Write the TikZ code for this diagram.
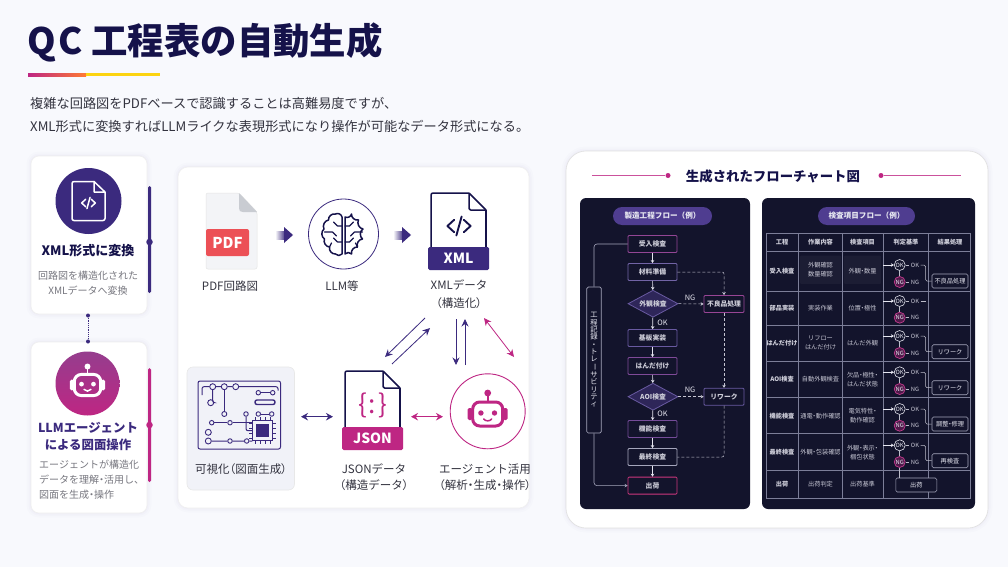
\documentclass[tikz,border=0pt]{standalone}
\usepackage{fontspec}
\setmainfont{Noto Sans CJK JP}
\usetikzlibrary{arrows.meta,shapes.geometric,calc,positioning}
\definecolor{pagebg}{HTML}{F8F9FD}
\definecolor{inkc}{HTML}{15124A}
\definecolor{purp}{HTML}{3B2A7E}
\definecolor{magn}{HTML}{BE2683}
\definecolor{grayt}{HTML}{77777F}
\definecolor{bodyt}{HTML}{33333F}
\definecolor{darkp}{HTML}{13142C}
\definecolor{pillc}{HTML}{4F3D90}
\definecolor{gridc}{HTML}{7C7E98}
\definecolor{flowt}{HTML}{E6E6F0}
\definecolor{tracec}{HTML}{A5A6BC}
\definecolor{pdfred}{HTML}{EC5056}
\definecolor{pdfbg}{HTML}{F3F4F7}
\definecolor{pdffold}{HTML}{C9CCD2}
\definecolor{visbg}{HTML}{F1F2F8}
\newcommand{\fsz}[1]{\fontsize{#1}{#1}\selectfont}
\newcommand{\pl}[1]{{\addfontfeature{RawFeature=+palt}#1}}
\tikzset{
	softcard/.style={fill=white,draw=black!6,line width=.6pt,rounded corners=#1,
		preaction={draw=purp,opacity=.012,line width=9pt},
		preaction={draw=purp,opacity=.015,line width=5pt},
		preaction={draw=purp,opacity=.02,line width=2pt}},
	txt/.style={inner sep=0,align=center,text=bodyt,font=\fsz{11.5}},
	cardhead/.style={inner sep=0,align=center,text=inkc,font=\fsz{13}\bfseries},
	cardtxt/.style={inner sep=0,align=center,text=grayt,font=\fsz{10}},
	panelbox/.style={fill=darkp,rounded corners=6pt},
	pill/.style={fill=pillc,rounded corners=9pt,text=flowt,minimum width=#1,minimum height=18pt,inner sep=0,font=\fsz{7.6}\bfseries},
	flowbox/.style={draw=#1,rounded corners=1pt,line width=.8pt,minimum width=49pt,minimum height=17pt,inner sep=0,text=flowt!88!darkp,font=\fsz{6.8}\bfseries},
	sidebox/.style={draw=#1,rounded corners=1pt,line width=.8pt,minimum width=40pt,minimum height=17pt,inner sep=0,text=flowt!88!darkp,font=\fsz{6.8}\bfseries},
	flowdia/.style={diamond,aspect=1.85,draw=#1,fill=pillc!45!darkp,line width=.8pt,minimum width=50pt,minimum height=27pt,inner sep=0,text=flowt!88!darkp,font=\fsz{6.8}\bfseries},
	flowedge/.style={->,>={Stealth[width=3.5pt,length=3pt]},color=flowt,line width=.6pt},
	dashedge/.style={->,>={Stealth[width=3.5pt,length=3pt]},color=flowt!85!darkp,line width=.5pt,densely dashed,rounded corners=2pt},
	traceedge/.style={color=tracec,line width=.6pt,rounded corners=3pt,>={Stealth[width=3.5pt,length=3pt]}},
	flowlab/.style={inner sep=0,text=flowt,font=\fsz{7.4}},
	cell/.style={inner sep=0,align=center,text=flowt!85!darkp,font=\fsz{6.2}},
	cellb/.style={inner sep=0,align=center,text=flowt!90!darkp,font=\fsz{6.2}\bfseries},
	okmark/.style={circle,draw=flowt,line width=.6pt,fill=darkp,minimum size=11pt,inner sep=0,text=flowt,font=\fsz{5.8}},
	ngmark/.style={circle,draw=magn!90!white,line width=.7pt,fill=magn!35!darkp,minimum size=11pt,inner sep=0,text=flowt,font=\fsz{5.8}},
	marktx/.style={inner sep=0,outer sep=1.5pt,text=flowt!85!darkp,font=\fsz{5.8}},
	markedge/.style={color=flowt!80!darkp,line width=.5pt,rounded corners=1.5pt},
	markarrow/.style={->,>={Stealth[width=3.5pt,length=3pt]},color=flowt,line width=.5pt},
	resbox/.style={draw=tracec,fill=darkp,rounded corners=1.5pt,line width=.6pt,minimum width=36pt,minimum height=14pt,inner sep=0,text=flowt,font=\fsz{6.2}},
	thinarrow/.style={->,>={Stealth[width=7pt,length=7.5pt]},line width=.8pt},
	twoarrow/.style={<->,>={Stealth[width=7.5pt,length=7pt]},line width=1.2pt},
	cpad/.style={circle,draw=purp,fill=visbg,line width=.9pt,minimum size=6pt,inner sep=0},
	cline/.style={draw=purp,line width=1pt,rounded corners=2pt},
	pics/roboticon/.style={code={
		\draw[#1,line width=3pt,rounded corners=7pt,fill=none] (-15,-12) rectangle (15,12);
		\fill[#1,rounded corners=1.5pt] (-20,-6) rectangle (-15.5,6);
		\fill[#1,rounded corners=1.5pt] (15.5,-6) rectangle (20,6);
		\draw[#1,line width=1.6pt] (0,-13) -- (0,-20);
		\fill[#1] (0,-21) circle (3.4);
		\fill[#1] (-6.8,-1) circle (2.7);
		\fill[#1] (6.8,-1) circle (2.7);
		\draw[#1,line width=1.5pt,line cap=round] (-4,5) .. controls (-2,7.5) and (2,7.5) .. (4,5);
	}},
	pics/codeicon/.style={code={
		\draw[#1,line cap=round,line join=round] (-4.5,-6) -- (-11,0) -- (-4.5,6);
		\draw[#1,line cap=round,line join=round] (4.5,-6) -- (11,0) -- (4.5,6);
		\draw[#1,line cap=round] (2.5,-9) -- (-2.5,9);
	}},
	pics/docoutline/.style={code={
		\draw[#1,line join=round,rounded corners=2pt] (0,57) -- (0,0) -- (38,0);
		\draw[#1,line join=round] (38,0) -- (55,17);
		\draw[#1,line join=round] (55,17) -- (55,57);
		\draw[#1,line join=round,rounded corners=1.5pt] (38,0) -- (38,17) -- (55,17);
	}}
}
\begin{document}
\begin{tikzpicture}[x=1pt,y=-1pt]
\useasboundingbox (0,0) rectangle (1008,567);
\fill[pagebg] (0,0) rectangle (1008,567);

%%%% title
\node[anchor=west,inner sep=0,text=inkc,font=\fsz{36.4}\bfseries] (title) at (27,42) {Q\hspace{3pt}C\hspace{8.5pt}工程表の自動生成};
\fill[left color=magn,right color=orange!70!red!80!white] (28,73.5) rectangle (86,76.5);
\fill[yellow!70!orange!95!white] (86,73.5) rectangle (160,76.5);
\node[anchor=west,txt,align=left,font=\fsz{13.2}] (lead1) at (30,103) {複雑な回路図をPDFベースで認識することは高難易度ですが、};
\node[anchor=west,txt,align=left,font=\fsz{13.2}] (lead2) at (30,126) {XML形式に変換すればLLMライクな表現形式になり操作が可能なデータ形式になる。};

%%%% left cards
\draw[softcard=8pt] (31,156) rectangle (147,314);
\draw[softcard=8pt] (31,342) rectangle (147,513);
\fill[purp,rounded corners=1.5pt] (148,186) rectangle (151,293);
\fill[magn,rounded corners=1.5pt] (148,368) rectangle (151,482);
\node[circle,fill=purp,minimum size=6.5pt,inner sep=0] (dotxml) at (149.5,242) {};
\node[circle,fill=magn,minimum size=6.5pt,inner sep=0] (dotllm) at (149.5,425) {};
\node[circle,fill=purp,minimum size=4pt,inner sep=0] (linka) at (88,315.5) {};
\node[circle,fill=purp,minimum size=4pt,inner sep=0] (linkb) at (88,341.5) {};
\draw[purp,line width=.8pt,densely dotted] (linka) -- (linkb);

\node[circle,fill=purp,minimum size=66pt,inner sep=0] (xmlcirc) at (88.5,201) {};
\draw[white,line width=1.5pt,line join=round,rounded corners=2pt] (94,181.5) -- (72,181.5) -- (72,220.5) -- (105,220.5) -- (105,192);
\draw[white,line width=1.5pt,line join=round] (94,181.5) -- (105,192) -- (94,192) -- cycle;
\pic[scale=.62] at (88.5,203) {codeicon={white,line width=1.5pt}};
\node[cardhead] (xmlhead) at (88,251) {XML形式に変換};
\node[cardtxt] (xmltxt) at (88,283.5) {回路図を構造化された\\[5pt]XMLデータへ変換};

\node[circle,top color=magn!60!purp!90!white,bottom color=magn,minimum size=64pt,inner sep=0] (llmcirc) at (87.5,383.5) {};
\pic[scale=.88] at (87.5,385) {roboticon=white};
\node[cardhead,text=purp,font=\fsz{12.4}\bfseries] (llmhead) at (88,436.5) {LLMエージェント\\[4.6pt]による図面操作};
\node[cardtxt,align=left,anchor=west] (llmtxt) at (39,480) {エージェントが構造化\\[5pt]データを理解\pl{・}活用し\pl{、}\\[5pt]図面を生成\pl{・}操作};

%%%% main panel
\draw[softcard=10pt] (178,167) rectangle (529,508);

% PDF
\fill[pdfbg,draw=black!10,line width=.5pt,rounded corners=2pt] (206,193) -- (239,193) -- (257,212) -- (257,269) -- (206,269) -- cycle;
\fill[pdffold] (239,193) -- (257,212) -- (243,212) .. controls (240,212) and (239,211) .. (239,208) -- cycle;
\node[fill=pdfred,rounded corners=2pt,minimum width=43pt,minimum height=27pt,inner sep=0,text=white,font=\fsz{15}\bfseries] (pdftag) at (227.5,242.5) {PDF};
\node[txt] (pdflab) at (230,286) {PDF回路図};

\fill[left color=purp!8,right color=purp!85] (276,231) rectangle (284,239);
\fill[purp] (284,227) -- (293,235) -- (284,243) -- cycle;
\fill[left color=purp!8,right color=purp!85] (394,231) rectangle (402,239);
\fill[purp] (402,227) -- (411,235) -- (402,243) -- cycle;

% LLM
\node[circle,draw=purp,line width=.8pt,fill=white,minimum size=70pt,inner sep=0] (llm) at (343.5,234) {};
\foreach \s/\a in {1/-55,-1/55}{
\begin{scope}[shift={(343.5,235)},xscale=\s]
\draw[inkc,line width=1.5pt,line join=round] (-1.5,-18) to[bend left=\a] (-8,-21) to[bend left=\a] (-15,-15) to[bend left=\a] (-19.5,-6) to[bend left=\a] (-19,4) to[bend left=\a] (-14,12) to[bend left=\a] (-8,19) to[bend left=\a] (-1.5,19) -- cycle;
\draw[inkc,line width=1.2pt,line cap=round,line join=round] (-1.5,-9) -- (-6,-9) -- (-10,-13) (-19,-3) -- (-11,-3) -- (-7,1) (-1.5,7) -- (-6,7) -- (-10,3) (-14,12) -- (-12,8);
\end{scope}}
\node[txt] (llmlab) at (342,286) {LLM等};

% XML
\pic at (431,193) {docoutline={inkc,line width=1.5pt}};
\pic[scale=1.05] at (459,226) {codeicon={inkc,line width=1.9pt}};
\node[fill=purp,rounded corners=1.5pt,minimum width=61pt,minimum height=23pt,inner sep=0,text=white,font=\fsz{14}\bfseries] (xmltag) at (458.5,258.5) {XML};
\node[txt] (xmllab) at (459,294) {XMLデータ\\[6pt]\pl{（}構造化\pl{）}};

% visualisation
\draw[fill=visbg,draw=black!9,line width=.6pt,rounded corners=6pt] (187,367) rectangle (294.5,490);
\draw[purp,line width=1pt,rounded corners=2pt] (198,381) rectangle (280.5,449);
\node[cpad] (p1) at (212.7,386.7) {};
\node[cpad] (p2) at (224.3,386.7) {};
\node[cpad] (p3) at (235.7,386.7) {};
\node[cpad] (p4) at (210.7,402.7) {};
\node[cpad,minimum size=5pt] (p5) at (224.3,414) {};
\node[cpad,minimum size=4.5pt] (p6) at (258.3,392.7) {};
\node[cpad,minimum size=4.5pt] (p7) at (272.7,392.7) {};
\node[cpad,minimum size=4.5pt] (p8) at (246,414) {};
\node[cpad,minimum size=4.5pt] (p9) at (258.3,414) {};
\node[cpad,minimum size=4.5pt] (p10) at (271.7,414) {};
\node[cpad,minimum size=4.5pt] (p11) at (211.7,422.7) {};
\node[cpad,minimum size=4.5pt] (p12) at (230,422.7) {};
\node[cpad] (p13) at (208.3,432.3) {};
\node[cpad] (p14) at (208.3,441) {};
\node[cpad,minimum size=4.5pt] (p15) at (230,441) {};
\node[cpad,minimum size=4.5pt] (p16) at (246.7,441) {};
\node[draw=purp,line width=.8pt,fill=visbg,minimum width=20pt,minimum height=20pt,inner sep=0] (chipbox) at (262.7,430.7) {};
\node[fill=purp,minimum width=13pt,minimum height=13pt,inner sep=0] (chip) at (262.7,430.7) {};
\foreach \k in {-7.5,-2.5,2.5,7.5}{
\draw[purp,line width=.7pt] ($(chipbox.north)+(\k,0)$) -- ++(0,-3) ($(chipbox.south)+(\k,0)$) -- ++(0,3);
\draw[purp,line width=.7pt] ($(chipbox.west)+(0,\k)$) -- ++(-3,0) ($(chipbox.east)+(0,\k)$) -- ++(3,0);
}
\coordinate (c0) at (202,395);
\coordinate (c1) at (278,386.7);
\draw[cline] (c0) -- (202,386.7) -- (p1) -- (p2) -- (p3) -- (c1) -- ++(0,4);
\draw[cline] (p1) |- (p4);
\draw[cline] (p2) -- (p5);
\draw[cline] (p6) -- (p7);
\draw[cline] (p8) -- (chipbox.west -| p8) -- (chipbox.west);
\draw[cline] (p9) -- (p10);
\draw[cline,line width=.5pt] (p11) -- (p12);
\draw[cline] (p12) -- (chipbox.west |- p12);
\draw[cline] (p14) -- (p15) -- (p16) -- (chipbox.south west);
\draw[cline,line width=1.4pt] (255,400) rectangle (275,404.5);
\node[txt] (vislab) at (241,469.5) {可視化\pl{（}図面生成\pl{）}};

% JSON
\pic at (345,371) {docoutline={inkc,line width=1.5pt}};
\node[inner sep=0,text=magn,font=\fsz{26}] (jsonsym) at (372.5,405) {\{\hspace{2pt}:\hspace{2pt}\}};
\node[fill=magn,rounded corners=1.5pt,minimum width=61pt,minimum height=23pt,inner sep=0,text=white,font=\fsz{14}\bfseries] (jsontag) at (372.5,438.5) {JSON};
\node[txt] (jsonlab) at (374,477) {JSONデータ\\[5pt]\pl{（}構造データ\pl{）}};

% agent
\node[circle,draw=magn,line width=.9pt,fill=white,minimum size=75pt,inner sep=0] (agent) at (487.7,411.3) {};
\pic at (487.7,414) {roboticon=magn};
\node[txt] (agentlab) at (485,477) {エージェント活用\\[5pt]\pl{（}解析\pl{・}生成\pl{・}操作\pl{）}};

% arrows between the nodes
\coordinate (xa) at (425,318); \coordinate (xb) at (385,357);
\coordinate (xc) at (392,364); \coordinate (xd) at (430,328);
\coordinate (xe) at (456,319); \coordinate (xf) at (456,365);
\coordinate (xg) at (465,365); \coordinate (xh) at (465,319);
\coordinate (xi) at (484,318); \coordinate (xj) at (514,357);
\draw[thinarrow,purp] (xa) -- (xb);
\draw[thinarrow,purp] (xc) -- (xd);
\draw[thinarrow,purp] (xe) -- (xf);
\draw[thinarrow,purp] (xg) -- (xh);
\draw[thinarrow,<->,magn] (xi) -- (xj);
\coordinate (ya) at (301,416.7); \coordinate (yb) at (333,416.7);
\coordinate (yc) at (411,416.7); \coordinate (yd) at (443,416.7);
\draw[twoarrow,purp] (ya) -- (yb);
\draw[twoarrow,magn] (yc) -- (yd);

%%%% right panel
\draw[softcard=20pt,draw=black!12] (566,151) rectangle (988,528);
\node[cardhead,font=\fsz{13.4}\bfseries] (charthead) at (773,176) {生成されたフローチャート図};
\node[circle,fill=magn,minimum size=5pt,inner sep=0] (hl) at (668,175.5) {};
\node[circle,fill=magn,minimum size=5pt,inner sep=0] (hr) at (881,175.5) {};
\coordinate (hla) at (592,175.5); \coordinate (hra) at (961,175.5);
\draw[magn!80!white,line width=.6pt] (hla) -- (hl);
\draw[magn!80!white,line width=.6pt] (hr) -- (hra);
\fill[panelbox] (580,198) rectangle (750,509);
\fill[panelbox] (762,198) rectangle (975,509);

%%%% process flow
\node[pill=99pt] (flowpill) at (662.5,216) {製造工程フロー（例）};
\node[flowbox=magn!50!pillc!90!white] (f1) at (652.5,244) {受入検査};
\node[flowbox=pillc!80!white] (f2) at (652.5,272) {材料準備};
\node[flowdia=pillc!85!white] (f3) at (653,303.7) {外観検査};
\node[flowbox=pillc!85!white] (f4) at (652.5,338) {基板実装};
\node[flowbox=magn!30!pillc!90!white] (f5) at (652.5,366) {はんだ付け};
\node[flowdia=pillc!85!white] (f6) at (653,396.7) {AOI検査};
\node[flowbox=magn!20!pillc!90!white] (f7) at (652.5,429) {機能検査};
\node[flowbox=tracec] (f8) at (652.5,457) {最終検査};
\node[flowbox=magn!85!red!90!white] (f9) at (652.5,485.6) {出荷};
\foreach \a/\b in {f1/f2,f2/f3,f3/f4,f4/f5,f5/f6,f6/f7,f7/f8,f8/f9}
	\draw[flowedge] (\a) -- (\b);
\node[sidebox=magn!55!pillc!90!white] (bad) at (724,304) {不良品処理};
\node[sidebox=pillc!85!white] (rework) at (724,396.7) {リワーク};
\draw[dashedge] (f2.east) -| (bad.north);
\draw[dashedge] (f3.east) -- (bad.west);
\draw[dashedge] (f6.east) -- (rework.west);
\draw[dashedge] (bad.south) -- (rework.north);
\draw[dashedge,-] (rework.south) |- (f8.east);
\node[flowlab] (ng1) at (690,297.5) {NG};
\node[flowlab] (ng2) at (690,390) {NG};
\node[flowlab] (ok1) at (662.5,323) {OK};
\node[flowlab] (ok2) at (662.5,414) {OK};
\node[draw=tracec,line width=.7pt,rounded corners=1.5pt,minimum width=14.5pt,minimum height=146pt,inner sep=0,align=center,text=flowt,font=\fsz{7.3}] (trace) at (594,360) {工\\程\\記\\録\\\pl{・}\\ト\\レ\\\rotatebox[origin=c]{-90}{ー}\\サ\\ビ\\リ\\テ\\ィ};
\draw[traceedge] (f1.west) -| (trace.north);
\draw[traceedge,->] (trace.south) |- (f9.west);

%%%% inspection table
\node[pill=97pt] (tablepill) at (866.5,216) {検査項目フロー（例）};
\fill[white,opacity=.04,rounded corners=1pt] (800,255.7) rectangle (841,284);
\fill[white,opacity=.04,rounded corners=1pt] (844,255.7) rectangle (881,284);
\draw[gridc,line width=.5pt] (766,233.3) rectangle (970.7,498.3);
\foreach \yy in {251.3,291,325.3,361.7,397.3,433.7,470.3}
	\draw[gridc,line width=.5pt] (766,\yy) -- (970.7,\yy);
\foreach \xx in {798.7,842,883.3,928.7}
	\draw[gridc,line width=.5pt] (\xx,233.3) -- (\xx,498.3);
\foreach \nm/\cx/\cy/\tx in {
	ha/782/242.5/工程,hb/820.5/242.5/作業内容,hc/862.5/242.5/検査項目,hd/906/242.5/判定基準,he/950/242.5/結果処理,
	ra/782/271/受入検査,rb/782/308/部品実装,rc/782/343/はんだ付け,rd/782/379.6/AOI検査,re/782/416/機能検査,rf/782/452/最終検査,rg/782/484.5/出荷}
	\node[cellb] (\nm) at (\cx,\cy) {\tx};
\foreach \nm/\cx/\cy/\tx in {
	sa/820.5/270/{外観確認\\[3pt]数量確認},sb/820.5/308/実装作業,sc/820.5/343/{リフロー\\[3pt]はんだ付け},sd/820.5/379.6/自動外観検査,se/820.5/416/通電\pl{・}動作確認,sf/820.5/452/外観\pl{・}包装確認,sg/820.5/484.5/出荷判定,
	ta/862.5/271/外観\pl{・}数量,tb/862.5/308/位置\pl{・}極性,tc/862.5/343/はんだ外観,td/862.5/380/{欠品\pl{・}極性\pl{・}\\[3pt]はんだ状態},te/862.5/416/{電気特性\pl{・}\\[3pt]動作確認},tf/862.5/453/{外観\pl{・}表示\pl{・}\\[3pt]梱包状態},tg/862.5/484.5/出荷基準}
	\node[cell] (\nm) at (\cx,\cy) {\tx};
\foreach \r/\oy/\ny in {1/265/282,2/301/317.7,3/336/353,4/372.3/389,5/409/425.7,6/445.3/462}{
	\coordinate (okin\r) at (883.3,\oy);
	\node[okmark] (ok\r) at (899.7,\oy) {OK};
	\node[ngmark] (nk\r) at (899.7,\ny) {NG};
	\node[marktx] (oktx\r) at (915,\oy) {OK};
	\node[marktx] (ngtx\r) at (915,\ny) {NG};
	\draw[markarrow] (okin\r) -- (ok\r);
	\draw[markedge] (ok\r) -- (nk\r);
	\draw[markedge] (ok\r) -- (oktx\r);
	\draw[markedge] (nk\r) -- (ngtx\r);
}
\foreach \r/\nm/\by/\tx in {1/k1/281/不良品処理,3/k3/351.7/リワーク,4/k4/387.7/リワーク,5/k5/424/調整\pl{・}修理,6/k6/460.7/再検査}
	\node[resbox] (\nm) at (950,\by) {\tx};
\node[resbox,minimum width=41pt] (k7) at (916.3,485) {出荷};
\coordinate (okend) at (926,301);
\draw[markedge] (oktx2) -- (okend);
\foreach \r/\nm in {1/k1,3/k3,4/k4,5/k5,6/k6}
	\draw[markedge] (oktx\r.east) -- ++(5,0) |- (\nm.west);
\draw[markedge] (nk6) -- (k7.north -| nk6);
\end{tikzpicture}
\end{document}
